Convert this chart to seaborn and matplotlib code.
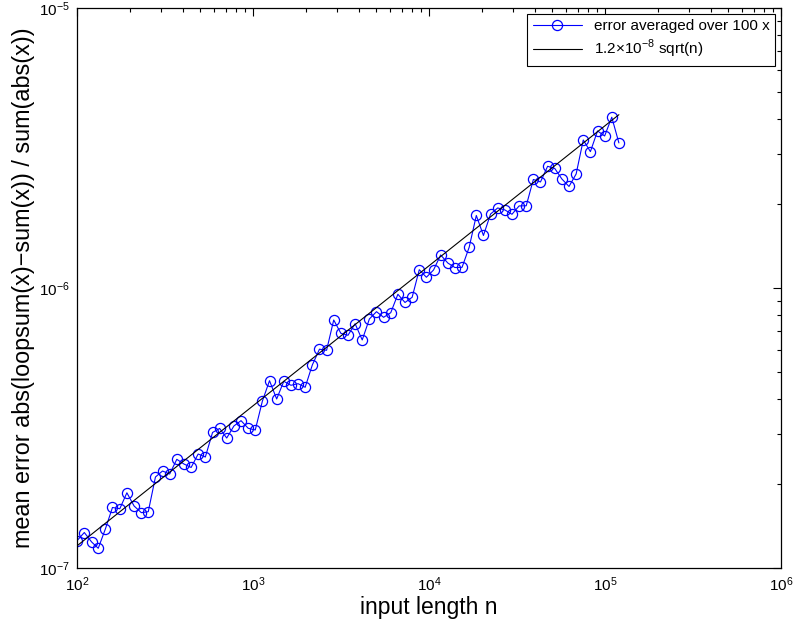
import numpy as np
import pandas as pd
import matplotlib
matplotlib.use("Agg")
import matplotlib.pyplot as plt
import seaborn as sns
from matplotlib.ticker import LogLocator, NullFormatter

# input lengths (log spaced)
n_values = [100, 110, 121, 132, 145, 159, 175, 192, 211, 232,
            254, 279, 306, 336, 369, 405, 445, 488, 536, 589,
            646, 709, 779, 855, 939, 1030, 1131, 1241, 1363, 1496,
            1643, 1803, 1979, 2173, 2386, 2619, 2875, 3156, 3465, 3803,
            4175, 4584, 5032, 5524, 6064, 6657, 7308, 8023, 8807, 9669,
            10612, 11650, 12790, 14041, 15414, 16921, 18576, 20392, 22386, 24575,
            26979, 29617, 32513, 35693, 39183, 43015, 47221, 51839, 56908, 62473,
            68582, 75289, 82651, 90734, 99583, 109320, 120000]

# mean relative error, averaged over 100 random x
mean_err = [1.252e-7, 1.339e-7, 1.239e-7, 1.176e-7, 1.380e-7, 1.645e-7, 1.628e-7, 1.856e-7, 1.665e-7, 1.576e-7,
            1.589e-7, 2.113e-7, 2.220e-7, 2.166e-7, 2.444e-7, 2.352e-7, 2.286e-7, 2.553e-7, 2.491e-7, 3.048e-7,
            3.150e-7, 2.912e-7, 3.215e-7, 3.359e-7, 3.155e-7, 3.111e-7, 3.948e-7, 4.666e-7, 4.014e-7, 4.643e-7,
            4.493e-7, 4.552e-7, 4.420e-7, 5.309e-7, 6.045e-7, 5.991e-7, 7.686e-7, 6.889e-7, 6.777e-7, 7.456e-7,
            6.521e-7, 7.750e-7, 8.229e-7, 7.857e-7, 8.161e-7, 9.495e-7, 8.875e-7, 9.264e-7, 1.162e-6, 1.092e-6,
            1.159e-6, 1.312e-6, 1.228e-6, 1.183e-6, 1.185e-6, 1.398e-6, 1.815e-6, 1.540e-6, 1.837e-6, 1.931e-6,
            1.900e-6, 1.833e-6, 1.963e-6, 1.966e-6, 2.440e-6, 2.391e-6, 2.720e-6, 2.672e-6, 2.450e-6, 2.304e-6,
            2.553e-6, 3.377e-6, 3.068e-6, 3.637e-6, 3.490e-6, 4.071e-6, 3.296e-6]

coef = 1.2e-8  # fitted line: coef * sqrt(n)

df = pd.DataFrame({"n": n_values, "err": mean_err})
df["fit"] = coef * np.sqrt(df["n"])

sns.set_style("white")
plt.rcParams["font.family"] = ["Liberation Sans", "DejaVu Sans"]
plt.rcParams["mathtext.fontset"] = "custom"
plt.rcParams["mathtext.rm"] = "Liberation Sans"
plt.rcParams["text.color"] = "black"
plt.rcParams["axes.labelcolor"] = "black"
plt.rcParams["xtick.color"] = "black"
plt.rcParams["ytick.color"] = "black"

fig = plt.figure(figsize=(7.99, 6.30), dpi=100)
ax = fig.add_axes([0.0964, 0.0984, 0.881, 0.889])

sns.lineplot(data=df, x="n", y="err", ax=ax, color="blue", lw=0.8,
             marker="o", markersize=7.3, markerfacecolor="none",
             markeredgecolor="blue", markeredgewidth=0.9,
             label="error averaged over 100 x")
sns.lineplot(data=df, x="n", y="fit", ax=ax, color="black", lw=0.8,
             label=r"1.2$\times$10$^{-8}$ sqrt(n)")

ax.set_xscale("log")
ax.set_yscale("log")
ax.set_xlim(1e2, 1e6)
ax.set_ylim(1e-7, 1e-5)

ax.xaxis.set_major_locator(LogLocator(base=10, numticks=10))
ax.yaxis.set_major_locator(LogLocator(base=10, numticks=10))
ax.xaxis.set_minor_locator(LogLocator(base=10, subs=np.arange(2, 10), numticks=20))
ax.yaxis.set_minor_locator(LogLocator(base=10, subs=np.arange(2, 10), numticks=20))
ax.xaxis.set_minor_formatter(NullFormatter())
ax.yaxis.set_minor_formatter(NullFormatter())

ax.tick_params(which="both", direction="in", top=True, right=True, labelsize=11, pad=5,
               colors="black")
ax.tick_params(which="major", length=6, width=0.8)
ax.tick_params(which="minor", length=3, width=0.8)
for s in ax.spines.values():
    s.set_color("black")
    s.set_linewidth(0.9)

ax.set_xlabel("input length n", fontsize=16.5, labelpad=2, color="black")
ax.set_ylabel("mean error abs(loopsum(x)\u2212sum(x)) / sum(abs(x))", fontsize=16.8,
              labelpad=3, color="black")

leg = ax.legend(loc="upper right", fontsize=11, frameon=True, fancybox=False,
                edgecolor="black", framealpha=1, borderaxespad=0.4,
                handlelength=3.2, borderpad=0.35, labelspacing=0.3)
leg.get_frame().set_linewidth(0.8)
for t in leg.get_texts():
    t.set_color("black")

fig.savefig("out.png", dpi=100)
